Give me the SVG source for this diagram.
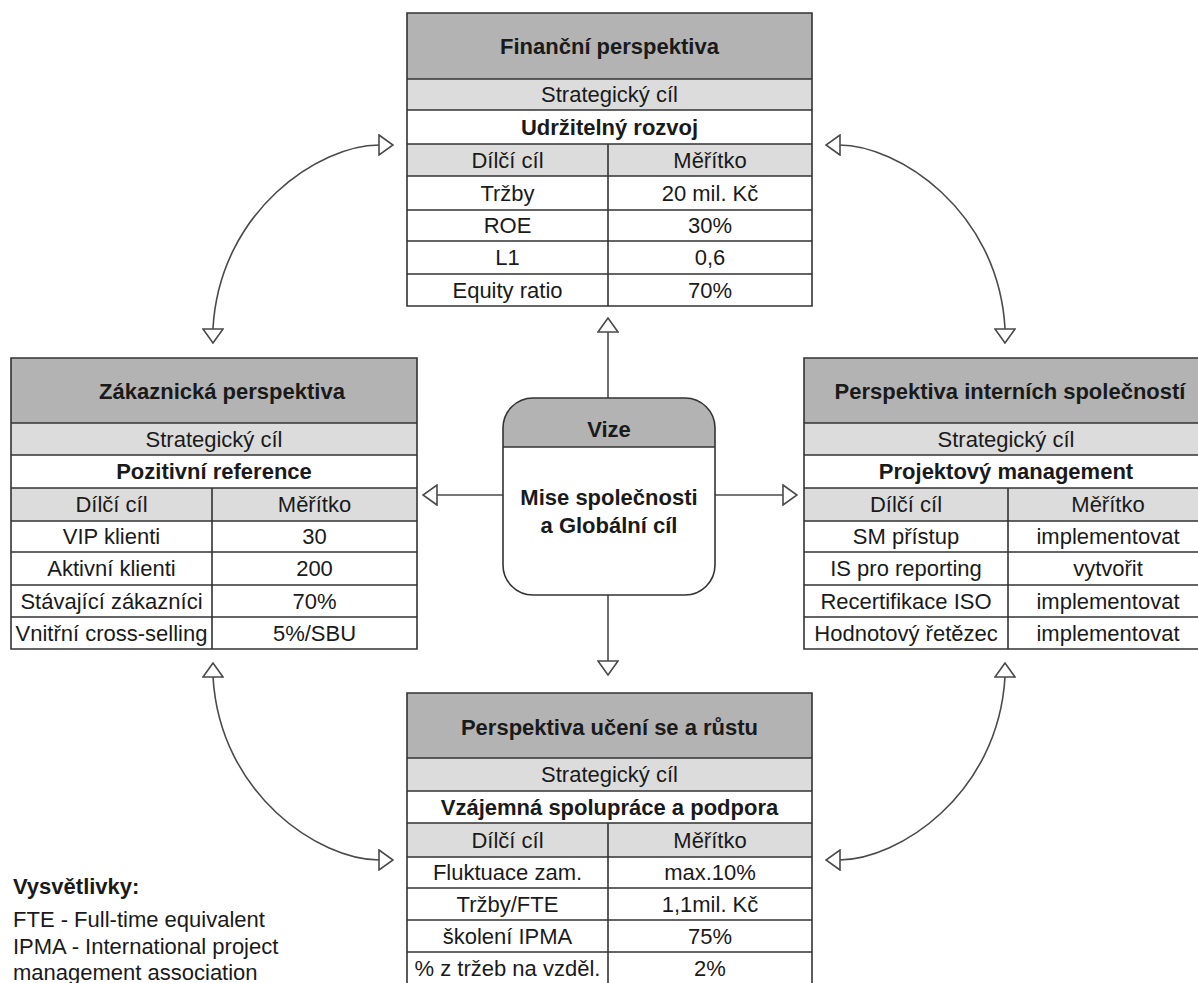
<svg xmlns="http://www.w3.org/2000/svg" width="1198" height="983" viewBox="0 0 1198 983">
  <style>
    text { font-family: "Liberation Sans", Arial, sans-serif; font-size: 22px; fill: #1a1a1a; text-anchor: middle; dominant-baseline: central; }
    .b { font-weight: bold; }
    .hd { fill: #b3b3b3; }
    .lt { fill: #dcdcdc; }
    .wh { fill: #ffffff; }
    .grid { fill: none; stroke: #333333; stroke-width: 1.6; }
    .link { fill: none; stroke: #4a4a4a; stroke-width: 1.6; }
    .legend { text-anchor: start; dominant-baseline: alphabetic; }
  </style>
  <defs>
    <marker id="open" viewBox="0 0 16 22" refX="15" refY="11" markerWidth="16" markerHeight="22" markerUnits="userSpaceOnUse" orient="auto-start-reverse">
      <path d="M1,1 L15,11 L1,21 Z" fill="#ffffff" stroke="#4a4a4a" stroke-width="1.6"/>
    </marker>
  </defs>
  <rect width="1198" height="983" fill="#ffffff"/>

  <!-- connectors -->
  <g id="connectors">
    <path class="link" d="M608,398 V318" marker-end="url(#open)"/>
    <path class="link" d="M608,595 V675" marker-end="url(#open)"/>
    <path class="link" d="M503,495 H423" marker-end="url(#open)"/>
    <path class="link" d="M715,495 H797" marker-end="url(#open)"/>
    <path class="link" d="M213,343 L213,328 C220,210 320,145 379,145 L393,145" marker-start="url(#open)" marker-end="url(#open)"/>
    <path class="link" d="M1005,343 L1005,328 C998,210 898,145 839,145 L826,145" marker-start="url(#open)" marker-end="url(#open)"/>
    <path class="link" d="M213,663 L213,677 C220,795 320,860 379,860 L393,860" marker-start="url(#open)" marker-end="url(#open)"/>
    <path class="link" d="M1005,663 L1005,677 C998,795 898,860 839,860 L826,860" marker-start="url(#open)" marker-end="url(#open)"/>
  </g>

  <!-- Finanční perspektiva -->
  <g id="financni">
    <rect class="hd" x="407" y="13" width="405" height="66"/>
    <rect class="lt" x="407" y="79" width="405" height="31"/>
    <rect class="wh" x="407" y="110" width="405" height="34"/>
    <rect class="lt" x="407" y="144" width="405" height="32"/>
    <rect class="wh" x="407" y="176" width="405" height="130"/>
    <path class="grid" d="M407,13 H812 V306 H407 Z M407,79 H812 M407,110 H812 M407,144 H812 M407,176 H812 M407,210 H812 M407,241 H812 M407,274 H812 M608,144 V306"/>
    <text class="b" x="609.5" y="46">Finanční perspektiva</text>
    <text x="609.5" y="94.5">Strategický cíl</text>
    <text class="b" x="609.5" y="127">Udržitelný rozvoj</text>
    <text x="507.5" y="160">Dílčí cíl</text>
    <text x="710" y="160">Měřítko</text>
    <text x="507.5" y="193">Tržby</text>
    <text x="710" y="193">20 mil. Kč</text>
    <text x="507.5" y="225.5">ROE</text>
    <text x="710" y="225.5">30%</text>
    <text x="507.5" y="257.5">L1</text>
    <text x="710" y="257.5">0,6</text>
    <text x="507.5" y="290">Equity ratio</text>
    <text x="710" y="290">70%</text>
  </g>

  <!-- Zákaznická perspektiva -->
  <g id="zakaznicka">
    <rect class="hd" x="11" y="358" width="406" height="65"/>
    <rect class="lt" x="11" y="423" width="406" height="32"/>
    <rect class="wh" x="11" y="455" width="406" height="33"/>
    <rect class="lt" x="11" y="488" width="406" height="33"/>
    <rect class="wh" x="11" y="521" width="406" height="128"/>
    <path class="grid" d="M11,358 H417 V649 H11 Z M11,423 H417 M11,455 H417 M11,488 H417 M11,521 H417 M11,552 H417 M11,585 H417 M11,617 H417 M212,488 V649"/>
    <text class="b" x="222" y="391">Zákaznická perspektiva</text>
    <text x="214" y="439">Strategický cíl</text>
    <text class="b" x="214" y="471.5">Pozitivní reference</text>
    <text x="111.5" y="504.5">Dílčí cíl</text>
    <text x="314.5" y="504.5">Měřítko</text>
    <text x="111.5" y="536.5">VIP klienti</text>
    <text x="314.5" y="536.5">30</text>
    <text x="111.5" y="568.5">Aktivní klienti</text>
    <text x="314.5" y="568.5">200</text>
    <text x="111.5" y="601">Stávající zákazníci</text>
    <text x="314.5" y="601">70%</text>
    <text x="111.5" y="633">Vnitřní cross-selling</text>
    <text x="314.5" y="633">5%/SBU</text>
  </g>

  <!-- Perspektiva interních společností -->
  <g id="interni">
    <rect class="hd" x="804" y="358" width="404" height="65"/>
    <rect class="lt" x="804" y="423" width="404" height="32"/>
    <rect class="wh" x="804" y="455" width="404" height="33"/>
    <rect class="lt" x="804" y="488" width="404" height="33"/>
    <rect class="wh" x="804" y="521" width="404" height="128"/>
    <path class="grid" d="M804,358 H1208 V649 H804 Z M804,423 H1208 M804,455 H1208 M804,488 H1208 M804,521 H1208 M804,552 H1208 M804,585 H1208 M804,617 H1208 M1008,488 V649"/>
    <text class="b" x="1010" y="391">Perspektiva interních společností</text>
    <text x="1006" y="439">Strategický cíl</text>
    <text class="b" x="1006" y="471.5">Projektový management</text>
    <text x="906" y="504.5">Dílčí cíl</text>
    <text x="1108" y="504.5">Měřítko</text>
    <text x="906" y="536.5">SM přístup</text>
    <text x="1108" y="536.5">implementovat</text>
    <text x="906" y="568.5">IS pro reporting</text>
    <text x="1108" y="568.5">vytvořit</text>
    <text x="906" y="601">Recertifikace ISO</text>
    <text x="1108" y="601">implementovat</text>
    <text x="906" y="633">Hodnotový řetězec</text>
    <text x="1108" y="633">implementovat</text>
  </g>

  <!-- Perspektiva učení se a růstu -->
  <g id="uceni">
    <rect class="hd" x="407" y="693" width="405" height="65"/>
    <rect class="lt" x="407" y="758" width="405" height="33"/>
    <rect class="wh" x="407" y="791" width="405" height="32"/>
    <rect class="lt" x="407" y="823" width="405" height="34"/>
    <rect class="wh" x="407" y="857" width="405" height="127"/>
    <path class="grid" d="M407,693 H812 V984 H407 Z M407,758 H812 M407,791 H812 M407,823 H812 M407,857 H812 M407,888 H812 M407,920 H812 M407,952 H812 M608,823 V984"/>
    <text class="b" x="609.5" y="727">Perspektiva učení se a růstu</text>
    <text x="609.5" y="774.5">Strategický cíl</text>
    <text class="b" x="609.5" y="807">Vzájemná spolupráce a podpora</text>
    <text x="507.5" y="840">Dílčí cíl</text>
    <text x="710" y="840">Měřítko</text>
    <text x="507.5" y="872.5">Fluktuace zam.</text>
    <text x="710" y="872.5">max.10%</text>
    <text x="507.5" y="904">Tržby/FTE</text>
    <text x="710" y="904">1,1mil. Kč</text>
    <text x="507.5" y="936">školení IPMA</text>
    <text x="710" y="936">75%</text>
    <text x="507.5" y="968">% z tržeb na vzděl.</text>
    <text x="710" y="968">2%</text>
  </g>

  <!-- Vize -->
  <g id="vize">
    <path class="hd" d="M503,447 V428 A30,30 0 0 1 533,398 H685 A30,30 0 0 1 715,428 V447 Z"/>
    <path class="wh" d="M503,447 H715 V565 A30,30 0 0 1 685,595 H533 A30,30 0 0 1 503,565 Z"/>
    <rect class="grid" x="503" y="398" width="212" height="197" rx="30" ry="30"/>
    <path class="grid" d="M503,447 H715"/>
    <text class="b" x="609" y="429">Vize</text>
    <text class="b" x="609" y="497">Mise společnosti</text>
    <text class="b" x="609" y="525">a Globální cíl</text>
  </g>

  <!-- Vysvětlivky -->
  <g id="legenda">
    <text class="legend b" x="13" y="894">Vysvětlivky:</text>
    <text class="legend" x="13" y="927">FTE - Full-time equivalent</text>
    <text class="legend" x="13" y="954">IPMA - International project</text>
    <text class="legend" x="13" y="980">management association</text>
  </g>
</svg>
